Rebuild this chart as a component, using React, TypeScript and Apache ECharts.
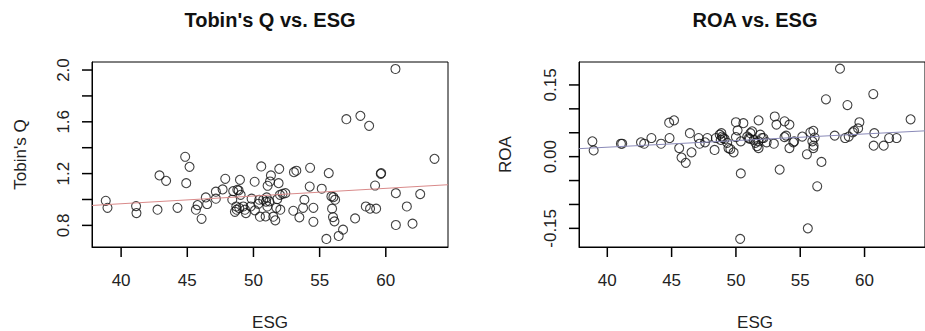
import React, { useEffect, useRef } from "react";
import * as echarts from "echarts";

// ---- data ----
const tobinPoints: [number, number][] = [
  [38.84, 0.99], [38.97, 0.936], [41.13, 0.949], [41.16, 0.895], [42.75, 0.921],
  [42.9, 1.186], [43.4, 1.144], [44.26, 0.936], [44.84, 1.33], [45.17, 1.252],
  [44.92, 1.126], [45.65, 0.921], [45.78, 0.957], [46.08, 0.851], [46.4, 1.016],
  [46.5, 0.965], [47.16, 1.06], [47.16, 1.006], [47.67, 1.078], [47.87, 1.16],
  [48.4, 0.998], [48.47, 1.065], [48.7, 0.946], [48.78, 1.075], [48.88, 1.07],
  [48.6, 0.905], [48.73, 0.921], [48.98, 1.152], [49.03, 1.036], [48.93, 0.934],
  [49.23, 0.946], [49.36, 0.921], [49.43, 0.895], [49.79, 0.946], [49.86, 1.006],
  [50.09, 1.137], [50.11, 0.916], [50.37, 0.967], [50.44, 0.998], [50.49, 0.867],
  [50.59, 1.255], [50.74, 0.998], [50.92, 0.869], [50.95, 0.983], [51.0, 1.016],
  [51.05, 0.946], [51.07, 1.106], [51.25, 1.139], [51.32, 1.186], [51.2, 0.985],
  [51.5, 0.867], [51.65, 0.839], [51.73, 0.936], [51.8, 1.003], [51.9, 1.126],
  [51.95, 1.237], [52.03, 0.921], [52.0, 1.036], [52.2, 1.044], [52.41, 1.049],
  [53.01, 0.913], [53.06, 1.211], [53.24, 1.222], [53.47, 0.862], [53.75, 0.936],
  [53.85, 0.998], [54.25, 1.1], [54.28, 1.245], [54.53, 0.936], [54.53, 0.828],
  [55.16, 1.083], [55.51, 0.695], [55.69, 1.204], [55.89, 1.024], [55.94, 0.929],
  [56.01, 0.864], [56.04, 1.018], [56.12, 0.831], [56.17, 0.998], [56.44, 0.718],
  [56.77, 0.767], [57.02, 1.62], [57.68, 0.854], [58.08, 1.646], [58.49, 0.946],
  [58.74, 1.569], [58.81, 0.929], [59.19, 1.108], [59.27, 0.929], [59.62, 1.198],
  [59.65, 1.204], [60.73, 2.008], [60.76, 1.049], [60.76, 0.803], [61.59, 0.946],
  [62.02, 0.813], [62.6, 1.042], [63.68, 1.314],
];

const roaPoints: [number, number][] = [
  [38.84, 0.032], [38.94, 0.013], [41.06, 0.027], [41.16, 0.027], [42.62, 0.03],
  [42.87, 0.027], [43.43, 0.039], [44.18, 0.027], [44.81, 0.071], [45.19, 0.076],
  [44.84, 0.039], [45.59, 0.018], [45.77, -0.002], [46.1, -0.013], [46.42, 0.049],
  [46.55, 0.009], [47.1, 0.039], [47.18, 0.027], [47.6, 0.03], [47.78, 0.039],
  [48.34, 0.014], [48.44, 0.039], [48.74, 0.046], [48.87, 0.049], [48.99, 0.039],
  [49.12, 0.037], [48.82, 0.035], [48.92, 0.042], [49.32, 0.029], [49.42, 0.018],
  [49.57, 0.016], [49.82, 0.009], [50.0, 0.072], [50.13, 0.055], [50.0, 0.041],
  [50.58, 0.07], [50.38, 0.032], [50.38, -0.035], [50.33, -0.172], [50.88, 0.042],
  [51.01, 0.039], [51.13, 0.049], [51.26, 0.053], [51.39, 0.035], [51.51, 0.029],
  [51.64, 0.022], [51.76, 0.018], [51.89, 0.046], [52.02, 0.039], [51.76, 0.032],
  [51.08, 0.037], [51.76, 0.076], [52.14, 0.039], [52.39, 0.03], [52.95, 0.027],
  [53.02, 0.084], [53.15, 0.067], [53.4, -0.027], [53.78, 0.074], [53.78, 0.041],
  [53.9, 0.044], [54.16, 0.067], [54.16, 0.018], [54.46, 0.03], [54.53, 0.032],
  [55.16, 0.042], [55.52, 0.005], [55.59, -0.15], [55.79, 0.051], [55.94, 0.032],
  [56.02, 0.054], [56.02, 0.018], [56.04, 0.023], [56.12, 0.04], [56.32, -0.062],
  [56.65, -0.011], [57.0, 0.12], [57.68, 0.044], [58.09, 0.184], [58.49, 0.039],
  [58.67, 0.108], [58.77, 0.042], [59.09, 0.051], [59.19, 0.054], [59.5, 0.059],
  [59.6, 0.072], [60.68, 0.131], [60.76, 0.049], [60.71, 0.023], [61.49, 0.023],
  [61.91, 0.039], [62.49, 0.039], [63.58, 0.078],
];

// fitted lines (endpoints read at the plot edges)
const tobinFit: [number, number][] = [[37.8, 0.954], [64.7, 1.114]];
const roaFit: [number, number][] = [[37.8, 0.0167], [64.7, 0.054]];

// axis ranges and ticks
const esgRange = [37.8, 64.7];
const tobinRange = [0.633, 2.062];
const roaRange = [-0.189, 0.198];
const esgTicks = [40, 45, 50, 55, 60];
const tobinTicks = [0.8, 1.0, 1.2, 1.4, 1.6, 1.8, 2.0];
const tobinLabels = [0.8, 1.2, 1.6, 2.0];
const roaTicks = [-0.15, -0.1, -0.05, 0, 0.05, 0.1, 0.15];
const roaLabels = [-0.15, 0, 0.15];

const FONT = "'Liberation Sans', Arial, sans-serif";
const TXT = "#222";
const TICK_LEN = 10;

export default function App() {
  const ref = useRef<HTMLDivElement>(null);
  useEffect(() => {
    if (!ref.current) return;
    const chart = echarts.init(ref.current, undefined, { renderer: "svg" });

    const axisLine = () => ({ show: true, onZero: false, lineStyle: { color: "#000", width: 1 } });

    const xAxisBase = (gridIndex: number) => ({
      type: "value" as const,
      gridIndex,
      min: esgRange[0],
      max: esgRange[1],
      axisLine: axisLine(),
      splitLine: { show: false },
      axisTick: { show: false },
      axisLabel: { show: true, customValues: esgTicks, fontSize: 17, fontFamily: FONT, color: TXT, margin: 25 },
    });

    const scatterStyle = {
      symbol: "circle",
      symbolSize: 9,
      itemStyle: { color: "rgba(0,0,0,0)", borderColor: "#111", borderWidth: 1.1 },
      emphasis: { disabled: true },
    };

    const baseGraphic: any[] = [
      { type: "text", x: 270, y: 20, style: { text: "Tobin's Q vs. ESG", font: `bold 20px ${FONT}`, fill: "#111", textAlign: "center", textVerticalAlign: "middle" } },
      { type: "text", x: 755, y: 20, style: { text: "ROA vs. ESG", font: `bold 20px ${FONT}`, fill: "#111", textAlign: "center", textVerticalAlign: "middle" } },
      { type: "text", x: 270, y: 322, style: { text: "ESG", font: `17px ${FONT}`, fill: TXT, textAlign: "center", textVerticalAlign: "middle" } },
      { type: "text", x: 755, y: 322, style: { text: "ESG", font: `17px ${FONT}`, fill: TXT, textAlign: "center", textVerticalAlign: "middle" } },
      { type: "text", x: 20, y: 154.5, rotation: Math.PI / 2, style: { text: "Tobin's Q", font: `17px ${FONT}`, fill: TXT, textAlign: "center", textVerticalAlign: "middle" } },
      { type: "text", x: 505, y: 154.5, rotation: Math.PI / 2, style: { text: "ROA", font: `17px ${FONT}`, fill: TXT, textAlign: "center", textVerticalAlign: "middle" } },
    ];

    chart.setOption({
      animation: false,
      backgroundColor: "#fff",
      grid: [
        { left: 92, top: 62, width: 356, height: 185, show: true, borderColor: "#000", borderWidth: 1 },
        { left: 579, top: 62, width: 356, height: 185, show: true, borderColor: "#000", borderWidth: 1 },
      ],
      xAxis: [xAxisBase(0), xAxisBase(1)],
      yAxis: [
        {
          type: "value", gridIndex: 0, min: tobinRange[0], max: tobinRange[1], axisLine: axisLine(), splitLine: { show: false },
          axisTick: { show: false },
          axisLabel: { customValues: tobinLabels, rotate: 90, fontSize: 17, fontFamily: FONT, color: TXT, margin: 20, formatter: (v: number) => Number(v).toFixed(1) },
        },
        {
          type: "value", gridIndex: 1, min: roaRange[0], max: roaRange[1], axisLine: axisLine(), splitLine: { show: false },
          axisTick: { show: false },
          axisLabel: { customValues: roaLabels, rotate: 90, fontSize: 17, fontFamily: FONT, color: TXT, margin: 20, formatter: (v: number) => Number(v).toFixed(2) },
        },
      ],
      series: [
        { type: "scatter", xAxisIndex: 0, yAxisIndex: 0, data: tobinPoints, ...scatterStyle },
        { type: "line", xAxisIndex: 0, yAxisIndex: 0, data: tobinFit, showSymbol: false, symbol: "none", lineStyle: { color: "#d98a8a", width: 1 }, silent: true },
        { type: "scatter", xAxisIndex: 1, yAxisIndex: 1, data: roaPoints, ...scatterStyle },
        { type: "line", xAxisIndex: 1, yAxisIndex: 1, data: roaFit, showSymbol: false, symbol: "none", lineStyle: { color: "#8a8ab8", width: 1 }, silent: true },
      ],
      graphic: baseGraphic,
    });

    // tick marks: positions come from the chart's own axis scales
    const tickLines: any[] = [];
    const addX = (gridIndex: number, yMin: number) => {
      esgTicks.forEach((v) => {
        const p = chart.convertToPixel({ gridIndex }, [v, yMin]) as number[];
        if (!p) return;
        tickLines.push({
          type: "line", silent: true, z: 100,
          shape: { x1: p[0], y1: p[1], x2: p[0], y2: p[1] + TICK_LEN },
          style: { stroke: "#000", lineWidth: 1.5 },
        });
      });
    };
    const addY = (gridIndex: number, ticks: number[]) => {
      ticks.forEach((v) => {
        const p = chart.convertToPixel({ gridIndex }, [esgRange[0], v]) as number[];
        if (!p) return;
        tickLines.push({
          type: "line", silent: true, z: 100,
          shape: { x1: p[0] - TICK_LEN, y1: p[1], x2: p[0], y2: p[1] },
          style: { stroke: "#000", lineWidth: 1.5 },
        });
      });
    };
    addX(0, tobinRange[0]);
    addX(1, roaRange[0]);
    addY(0, tobinTicks);
    addY(1, roaTicks);
    chart.setOption({ graphic: [...baseGraphic, ...tickLines] });

    return () => chart.dispose();
  }, []);
  return <div ref={ref} style={{ position: "fixed", left: 0, top: 0, width: 925, height: 331, background: "#fff" }} />;
}
